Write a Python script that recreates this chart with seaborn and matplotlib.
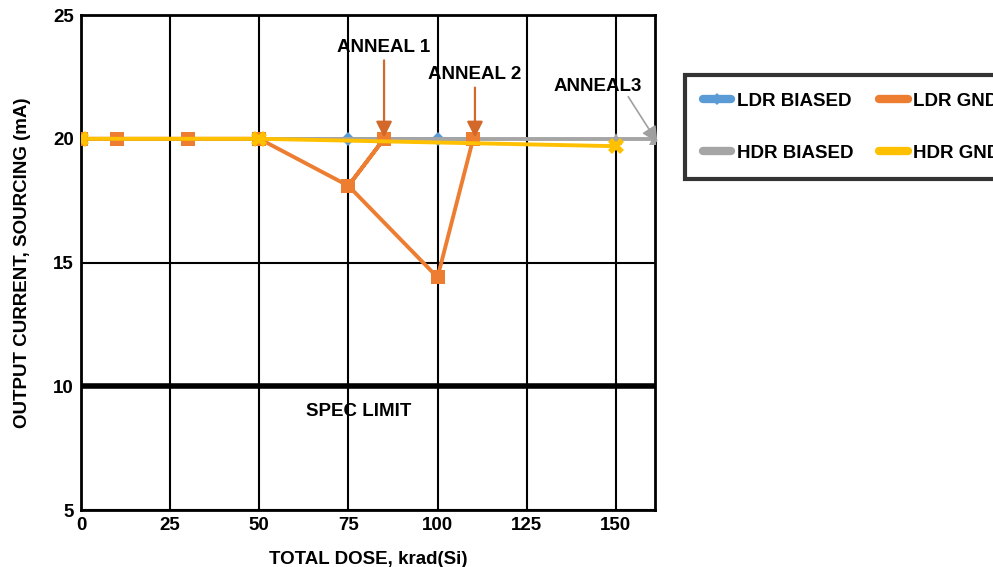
import matplotlib
matplotlib.use("Agg")
import matplotlib.pyplot as plt
import seaborn as sns
import pandas as pd

# Données
ldr_biased_x = [0, 10, 30, 50, 75, 85, 100, 110]
ldr_biased_y = [20, 20, 20, 20, 20, 20, 20, 20]
ldr_gnd_x = [0, 10, 30, 50, 75, 85, 75, 100, 110]
ldr_gnd_y = [20, 20, 20, 20, 18.1, 20, 18.1, 14.4, 20]
hdr_biased_x = [0, 30, 50, 150, 161]
hdr_biased_y = [20, 20, 20, 20, 20]
hdr_gnd_x = [0, 50, 150]
hdr_gnd_y = [20, 20, 19.7]
spec_x = [0, 162]
spec_y = [10, 10]

x_ticks = [0, 25, 50, 75, 100, 125, 150]
y_ticks = [5, 10, 15, 20, 25]

sns.set_style("white")
plt.rcParams['font.family'] = ['Liberation Sans', 'DejaVu Sans']
plt.rcParams['font.weight'] = 'bold'
plt.rcParams['text.color'] = 'black'
plt.rcParams['axes.labelcolor'] = 'black'
plt.rcParams['xtick.color'] = 'black'
plt.rcParams['ytick.color'] = 'black'

FS = 13.5

fig = plt.figure(figsize=(9.93, 5.67), dpi=100)
ax = fig.add_axes([0.0816, 0.1005, 0.578, 0.873])

# Limite de spécification
sns.lineplot(x=spec_x, y=spec_y, ax=ax, color='black', linewidth=4, zorder=3)

series = [
    ("LDR BIASED", ldr_biased_x, ldr_biased_y, '#5B9BD5', 'D', 7),
    ("HDR BIASED", hdr_biased_x, hdr_biased_y, '#A5A5A5', '^', 9),
    ("LDR GND", ldr_gnd_x, ldr_gnd_y, '#ED7D31', 's', 10),
    ("HDR GND", hdr_gnd_x, hdr_gnd_y, '#FFC000', 'X', 11),
]
order = {"LDR BIASED": 4, "HDR BIASED": 5, "LDR GND": 6, "HDR GND": 7}
handles = []
for name, xs, ys, col, mk, ms in series:
    d = pd.DataFrame({'x': xs, 'y': ys})
    sns.lineplot(data=d, x='x', y='y', ax=ax, sort=False, estimator=None,
                 color=col, marker=mk, markersize=ms, markeredgewidth=0,
                 linewidth=2.8, zorder=order[name])
    handles.append(ax.lines[-1])

# Annotations
arrow_orange = dict(arrowstyle='-|>', color='#D2692A', lw=1.6, mutation_scale=24,
                    shrinkA=1, shrinkB=0)
ax.annotate('ANNEAL 1', xy=(85, 20.05), xytext=(85, 23.7), ha='center', va='center',
            fontsize=FS, fontweight='bold', arrowprops=arrow_orange, zorder=10)
ax.annotate('ANNEAL 2', xy=(110.5, 20.05), xytext=(110.5, 22.6), ha='center', va='center',
            fontsize=FS, fontweight='bold', arrowprops=arrow_orange, zorder=10)
ax.annotate('', xy=(161.7, 19.85), xytext=(153.5, 21.7),
            arrowprops=dict(arrowstyle='-|>', color='#A0A0A0', lw=1.2, mutation_scale=24,
                            shrinkA=0, shrinkB=0),
            annotation_clip=False, zorder=10)
ax.text(145, 22.1, 'ANNEAL3', ha='center', va='center', fontsize=FS, fontweight='bold')
ax.text(78, 9.0, 'SPEC LIMIT', ha='center', va='center', fontsize=FS, fontweight='bold')

ax.set_xlim(0, 161)
ax.set_ylim(5, 25)
ax.set_xticks(x_ticks)
ax.set_yticks(y_ticks)
ax.grid(True, color='black', linewidth=1.5)
ax.set_axisbelow(True)
for s in ax.spines.values():
    s.set_color('black')
    s.set_linewidth(2)
ax.tick_params(axis='both', length=0, labelsize=FS, pad=5)
for lab in ax.get_xticklabels() + ax.get_yticklabels():
    lab.set_fontweight('bold')
ax.set_xlabel('TOTAL DOSE, krad(Si)', fontsize=FS, fontweight='bold', labelpad=12)
ax.set_ylabel('OUTPUT CURRENT, SOURCING (mA)', fontsize=FS, fontweight='bold', labelpad=16)

# Légende (coupée à droite comme dans l'original)
leg = fig.legend(handles=handles, labels=[s[0] for s in series], ncol=2,
                 loc='upper left', bbox_to_anchor=(0.69, 0.868), borderaxespad=0,
                 fontsize=FS, frameon=True, fancybox=False, borderpad=0.95,
                 labelspacing=1.85, handlelength=1.5, columnspacing=1.4,
                 handletextpad=0.3)
leg.get_frame().set_edgecolor('black')
leg.get_frame().set_linewidth(3)
for t in leg.get_texts():
    t.set_fontweight('bold')
for h in leg.legend_handles:
    h.set_markersize(6)
    h.set_linewidth(6)

fig.savefig('out.png', dpi=100)
